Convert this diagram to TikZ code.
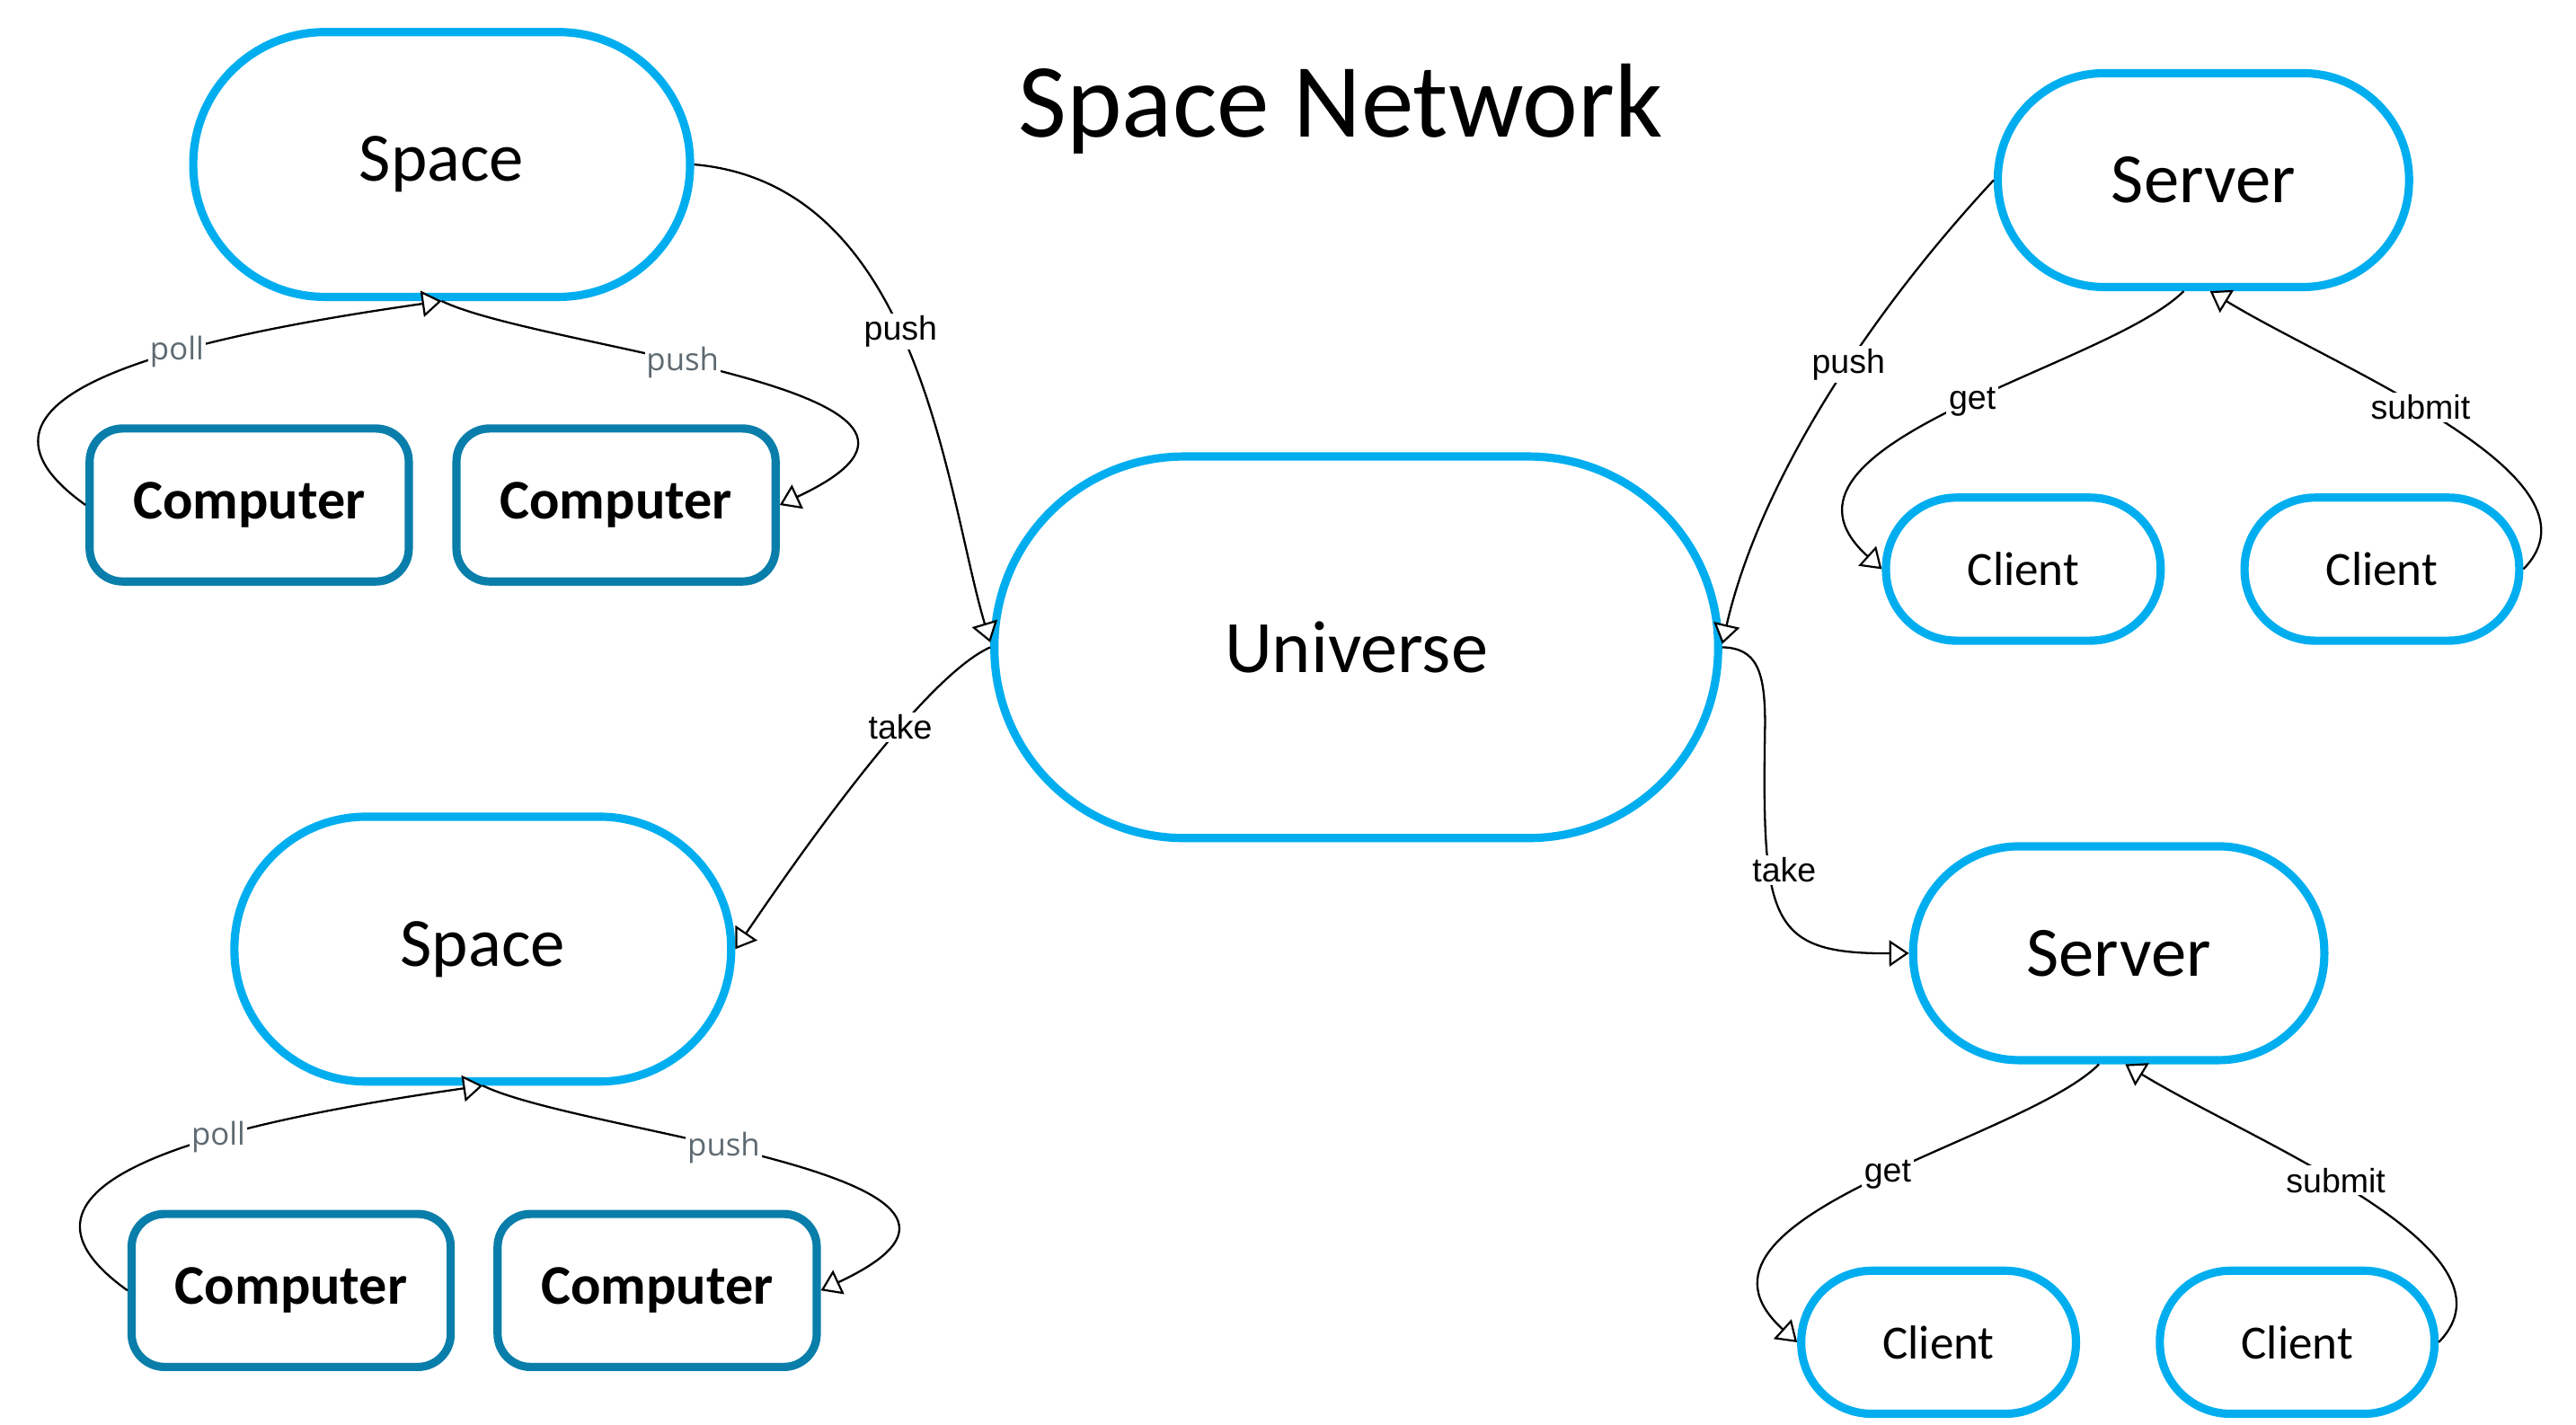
\documentclass[tikz,border=0pt]{standalone}
\usepackage{fontspec}
\setmainfont{Carlito}
\newfontfamily\lblfont{Liberation Sans}
\newfontfamily\graylblfont{Open Sans}
\usetikzlibrary{arrows.meta,calc}
\definecolor{cyanb}{HTML}{00AEEF}
\definecolor{compb}{HTML}{0A7EAA}
\definecolor{lblgray}{HTML}{5E6A72}
\begin{document}
\begin{tikzpicture}[x=1pt,y=-1pt,
  stad/.style={draw=cyanb, line width=5pt, fill=white, inner sep=0pt},
  spacen/.style={stad, minimum width=302pt, minimum height=161pt, rounded corners=80pt, font=\fontsize{42}{44}\selectfont},
  univn/.style={stad, minimum width=440pt, minimum height=232pt, rounded corners=115.5pt, font=\fontsize{45}{48}\selectfont},
  servn/.style={stad, minimum width=250pt, minimum height=130pt, rounded corners=64.5pt, font=\fontsize{43}{46}\selectfont},
  clin/.style={stad, minimum width=167pt, minimum height=87pt, rounded corners=43pt, font=\fontsize{29}{31}\selectfont},
  comp/.style={draw=compb, line width=5pt, fill=white, inner sep=0pt, rounded corners=20pt, minimum width=194pt, minimum height=93pt, font=\bfseries\fontsize{34}{36}\selectfont},
  edge/.style={line width=1.25pt, -{Triangle[length=12pt,width=16pt,fill=white,line width=1.2pt]}},
  lbl/.style={fill=white, inner sep=1.5pt, font=\lblfont\fontsize{20.5}{22}\selectfont},
  glbl/.style={fill=white, inner sep=1pt, text=lblgray, font=\graylblfont\fontsize{19}{21}\selectfont}
]
\useasboundingbox (0,0) rectangle (1566,866);

\node (title) at (815,66) {\fontsize{64}{70}\selectfont Space Network};

% nodes
\node[spacen] (s1) at (268.5,100) {Space};
\node[spacen] (s2) at (293.5,577) {Space};
\node[univn] (u) at (824.5,393.5) {Universe};
\node[servn] (sv1) at (1339.5,109.5) {Server};
\node[servn] (sv2) at (1288,579.5) {Server};
\node[clin] (cl1) at (1230,346) {Client};
\node[clin] (cl2) at (1448,346) {Client};
\node[clin] (cl3) at (1178.5,816) {Client};
\node[clin] (cl4) at (1396.5,816) {Client};
\node[comp] (c1) at (151.5,307) {Computer};
\node[comp] (c2) at (374.5,307) {Computer};
\node[comp] (c3) at (177,784.5) {Computer};
\node[comp] (c4) at (399.5,784.5) {Computer};

% universe connections
\draw[edge] (s1.east) .. controls (560,112) and (575,300) .. ([yshift=3pt]u.west) node[lbl,pos=0.46]{push};
\draw[edge] (u.west) .. controls (560,412) and (479,530) .. (s2.east) node[lbl,pos=0.35]{take};
\draw[edge] (sv1.west) .. controls (1128,200) and (1068,300) .. ([yshift=2pt]u.east) node[lbl,pos=0.4]{push};
\draw[edge] (u.east) .. controls (1068,394) and (1073,408) .. (1073,440) .. controls (1071,560) and (1075,580) .. (sv2.west) node[lbl,pos=0.33,xshift=9pt]{take};

% space / computers
\draw[edge] (c1.west) .. controls +(-91,-65) and +(-168,24) .. (s1.south) node[glbl,pos=0.64]{poll};
\draw[edge] (s1.south) .. controls +(62,30) and +(150,-70) .. (c2.east) node[glbl,pos=0.41]{push};
\draw[edge] (c3.west) .. controls +(-91,-65) and +(-168,24) .. (s2.south) node[glbl,pos=0.64]{poll};
\draw[edge] (s2.south) .. controls +(62,30) and +(150,-70) .. (c4.east) node[glbl,pos=0.41]{push};

% server / clients
\draw[edge] ([xshift=-12pt]sv1.south) .. controls +(-47,47) and +(-84,-76) .. (cl1.west) node[lbl,pos=0.46]{get};
\draw[edge] (cl2.east) .. controls +(55,-56) and +(77,47) .. ([xshift=4pt]sv1.south) node[lbl,pos=0.56]{submit};
\draw[edge] ([xshift=-12pt]sv2.south) .. controls +(-47,47) and +(-84,-76) .. (cl3.west) node[lbl,pos=0.46]{get};
\draw[edge] (cl4.east) .. controls +(55,-56) and +(77,47) .. ([xshift=4pt]sv2.south) node[lbl,pos=0.56]{submit};
\end{tikzpicture}
\end{document}
